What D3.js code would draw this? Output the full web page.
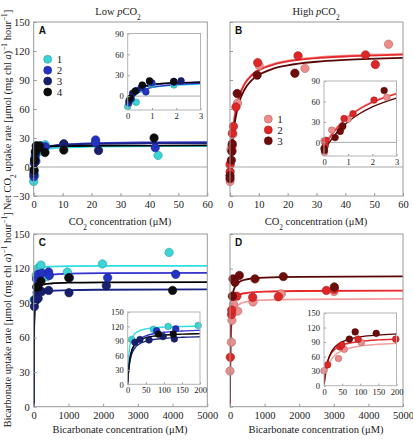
<!DOCTYPE html>
<html><head><meta charset="utf-8">
<script src="https://cdn.jsdelivr.net/npm/d3@7"></script>
<style>
body{margin:0;background:#fff;}
svg{display:block;font-family:"Liberation Serif","Times New Roman",serif;}
</style></head><body>
<svg id="c" width="413" height="440"></svg>
<script>
// ---------- data ----------
const lowNames = ["1","2","3","4"];
const highNames = ["1","2","3"];
const lowFill = ["#3ad3d6","#2233c2","#18206e","#0d0d0d"];
const lowLine = ["#30dde0","#3333d0","#1a2482","#000000"];
const highFill = ["#ee8c8c","#df2626","#6e0c0c"];
const highLine = ["#f59c9c","#e8282a","#5a0505"];

const aPoints = [
  [[0,-15],[0.35,-9],[0.6,10],[1.0,17],[1.9,16],[4,23],[43,12]],
  [[0.05,-10],[0.15,-4],[0.55,12],[0.75,6],[1.0,19],[1.9,21],[4,21],[10.4,23],[21.4,28],[21.4,25],[42,20]],
  [[0.05,-7],[0.2,4],[0.35,8],[0.6,15],[0.9,21],[1.9,20],[2.2,22],[10.4,24],[22.4,17]],
  [[0.1,-3],[0.3,7],[0.6,16],[0.9,22],[1.9,21],[3.9,15],[10.4,17.5],[41.6,30]]
];
const aCurveX = [0,0.1,0.25,0.5,0.75,1,1.5,2,3,5,10,20,40,60];
const aCurveY = [
  [-15,-8,-1,6,10,12.5,14.5,15.8,17.3,18.8,20.2,21,21.5,21.7],
  [-12,-6,0,6.5,10,12.5,15,16.5,18.3,20.5,23,24.6,25.5,25.8],
  [-10,-3,4,10,13.5,15.5,17.5,18.5,19.7,21.3,23,24,24.6,24.8],
  [-8,0,6,12,15,17,18.5,19.3,20.2,21,21.6,22,22.2,22.3]
];

const bPoints = [
  [[0,2],[0.02,-15],[0.32,18],[0.67,18],[1.0,34],[2.6,66],[10.1,105],[26,102],[55,127]],
  [[0.05,-5],[0.08,3],[0.74,22],[0.83,35],[1.2,42],[2.07,62],[9.6,108],[23.6,115],[47,116],[50.4,106]],
  [[0,-9],[0.02,-12],[0.46,7],[0.67,16],[0.78,24],[2.49,76],[9.4,95],[22.5,97]]
];
const bCurveX = [0,0.1,0.25,0.5,0.75,1,1.5,2,3,5,7.5,10,15,20,30,40,60];
const bCurveY = [
  [-5,1.3,9.7,21.3,30.7,38.4,50.6,59.6,72.1,86.3,95.5,100.9,106.8,110.1,113.5,115.3,117.1],
  [-8,-1.4,7.2,19.2,28.9,36.9,49.3,58.5,71.2,85.4,94.7,100,105.9,109.2,112.6,114.3,116.2],
  [-13,-6.8,1.4,13,22.5,30.3,42.7,52,65,79.9,89.6,95.3,101.7,105.2,108.9,110.8,112.8]
];

const cPoints = [
  [[11,93],[71,114],[112,120],[195,122],[210,123],[390,113],[970,117],[1980,124],[3900,134]],
  [[80,111],[133,115],[240,116],[430,117],[450,114],[1030,112],[2130,112],[4090,115]],
  [[20,87],[34,93],[59,92],[98,99],[129,94],[230,100],[432,101],[1017,99],[2092,105]],
  [[85,104],[126,104],[210,109],[1010,112],[4000,101]]
];
const cCurveX = [0,1,2,5,10,20,30,50,75,100,150,200,300,500,1000,2000,5000];
const cCurveY = [
  [0,28.5,46.2,73.8,92.1,105.2,110.4,114.9,117.3,118.6,119.9,120.5,121.2,121.7,122.1,122.3,122.4],
  [0,12.9,23.3,44.8,64.7,83.2,92,100.4,105.3,107.9,110.6,112,113.5,114.7,115.6,116,116.3],
  [0,12.75,22.7,42.5,60,75.6,82.7,89.5,93.3,95.3,97.5,98.6,99.7,100.6,101.3,101.6,101.9],
  [0,15.5,27.1,49.2,67.7,83.3,90.3,96.7,100.3,102.2,104.1,105.1,106.2,107,107.7,108,108.2]
];

const dPoints = [
  [[0,31],[40,56],[56,75],[103,89],[222,83],[665,91],[1484,98],[3006,100]],
  [[10,43],[44,80],[49,84],[94,96],[198,96],[655,95],[1397,95.5],[2784,101],[3015,102]],
  [[70,96],[86,111],[144,108],[270,114],[722,111],[1541,113],[3015,104]]
];
const dCurveX = [0,2,5,10,20,30,50,75,100,150,200,300,500,1000,2000,5000];
const dCurveY = [
  [0,11.1,23.5,37.6,53.7,62.7,72.3,78.3,81.7,85.5,87.4,89.5,91.3,92.6,93.3,93.7],
  [0,16.3,32.8,49.5,66.4,75,83.6,88.7,91.5,94.5,96,97.6,98.9,100,100.5,100.8],
  [0,15.4,32.1,50,69.4,79.7,90.5,97.1,100.7,104.6,106.7,108.9,110.7,112.1,112.8,113.2]
];

const co2Ticks = [0,10,20,30,40,50,60];
const co2InsetTicks = [0,1,2,3];
const hco3Ticks = [0,1000,2000,3000,4000,5000];
const hco3InsetTicks = [0,50,100,150,200];
const rateTicks = [-30,0,30,60,90,120,150];
const rateInsetTicks = [0,30,60,90];
const bicTicks = [0,30,60,90,120,150];
const bicInsetTicks = [0,30,60,90,120,150];

// ---------- drawing ----------
const SERIF = "Liberation Serif";
const svg = d3.select("#c");
const defs = svg.append("defs");
let clipN = 0;
function clipFor(b){
  const id = "clip" + (clipN++);
  defs.append("clipPath").attr("id", id).append("rect")
    .attr("x", b.l).attr("y", b.t).attr("width", b.r - b.l).attr("height", b.b - b.t);
  return `url(#${id})`;
}
const fmt = d3.format("d");

function area(cfg, box, xDom, yDom, xT, yT, o){
  const g = svg.append("g");
  const x = d3.scaleLinear().domain(xDom).range([box.l, box.r]);
  const y = d3.scaleLinear().domain(yDom).range([box.b, box.t]);
  g.append("rect").attr("x", box.l).attr("y", box.t).attr("width", box.r - box.l)
    .attr("height", box.b - box.t).attr("fill", "#fff");
  if (yDom[0] < 0) g.append("line").attr("x1", box.l).attr("x2", box.r)
    .attr("y1", y(0)).attr("y2", y(0)).attr("stroke", "#a8a8a8").attr("stroke-width", 1);
  const cp = clipFor(box);
  const line = d3.line().x(d => x(d[0])).y(d => y(d[1])).curve(d3.curveMonotoneX);
  cfg.curveY.forEach((ys, i) => {
    g.append("path").attr("d", line(cfg.curveX.map((xv, j) => [xv, ys[j]])))
      .attr("fill", "none").attr("stroke", cfg.line[i]).attr("stroke-width", o.lw)
      .attr("clip-path", cp);
  });
  cfg.points.forEach((ser, i) => {
    g.append("g").selectAll("circle").data(ser.filter(d => d[0] <= xDom[1])).join("circle")
      .attr("cx", d => x(d[0])).attr("cy", d => y(d[1])).attr("r", o.r)
      .attr("fill", cfg.fill[i]).attr("stroke", d3.color(cfg.fill[i]).darker(0.8))
      .attr("stroke-width", 0.6);
  });
  const ya = d3.axisLeft(y).tickValues(yT).tickSize(-o.tick).tickPadding(o.ypad)
    .tickFormat(o.yLabels ? fmt : () => "");
  const yg = g.append("g").attr("transform", `translate(${box.l},0)`).call(ya);
  const xa = d3.axisBottom(x).tickValues(xT).tickSize(-o.tick).tickPadding(o.xpad).tickFormat(fmt);
  const xg = g.append("g").attr("transform", `translate(0,${box.b})`).call(xa);
  [yg, xg].forEach(a => {
    a.attr("font-family", SERIF).attr("font-size", o.fs);
    a.select(".domain").remove();
    a.selectAll("line").attr("stroke", "#999");
    a.selectAll("text").attr("font-size", o.fs).attr("fill", "#1a1a1a").attr("font-family", SERIF);
  });
  g.append("rect").attr("x", box.l).attr("y", box.t).attr("width", box.r - box.l)
    .attr("height", box.b - box.t).attr("fill", "none").attr("stroke", o.frame).attr("stroke-width", 1);
  return g;
}

const mainOpt = {lw: 1.8, r: 4.2, tick: 3, ypad: 4, xpad: 5, fs: 10.5, frame: "#9a9a9a"};
const insetOpt = {lw: 1.4, r: 3.3, tick: 2, ypad: 4, xpad: 3, fs: 8.5, frame: "#b4b4b4", yLabels: true};

const panels = [
  {letter: "A", points: aPoints, curveX: aCurveX, curveY: aCurveY, fill: lowFill, line: lowLine,
   box: {l: 33.7, r: 207.3, t: 22, b: 196}, xDom: [0, 60], yDom: [-30, 150], xT: co2Ticks, yT: rateTicks, yLab: true,
   ibox: {l: 127.7, r: 200.5, t: 33.5, b: 110}, ixDom: [0, 3], iyDom: [-20, 90], ixT: co2InsetTicks, iyT: rateInsetTicks,
   legend: {x: 47.7, y: 59.3, names: lowNames}},
  {letter: "B", points: bPoints, curveX: bCurveX, curveY: bCurveY, fill: highFill, line: highLine,
   box: {l: 230, r: 403, t: 22, b: 196}, xDom: [0, 60], yDom: [-30, 150], xT: co2Ticks, yT: rateTicks, yLab: false,
   ibox: {l: 324, r: 396.5, t: 81, b: 156}, ixDom: [0, 3], iyDom: [-20, 90], ixT: co2InsetTicks, iyT: rateInsetTicks,
   legend: {x: 268.3, y: 119, names: highNames}},
  {letter: "C", points: cPoints, curveX: cCurveX, curveY: cCurveY, fill: lowFill, line: lowLine,
   box: {l: 33.7, r: 207.3, t: 234, b: 406.7}, xDom: [0, 5000], yDom: [0, 150], xT: hco3Ticks, yT: bicTicks, yLab: true,
   ibox: {l: 127.7, r: 200, t: 312, b: 384.3}, ixDom: [0, 200], iyDom: [0, 150], ixT: hco3InsetTicks, iyT: bicInsetTicks},
  {letter: "D", points: dPoints, curveX: dCurveX, curveY: dCurveY, fill: highFill, line: highLine,
   box: {l: 230, r: 403, t: 234, b: 406.7}, xDom: [0, 5000], yDom: [0, 150], xT: hco3Ticks, yT: bicTicks, yLab: false,
   ibox: {l: 324, r: 396.5, t: 313, b: 385.7}, ixDom: [0, 200], iyDom: [0, 150], ixT: hco3InsetTicks, iyT: bicInsetTicks}
];

panels.forEach(p => {
  area(p, p.box, p.xDom, p.yDom, p.xT, p.yT, Object.assign({}, mainOpt, {yLabels: p.yLab}));
  svg.append("text").attr("x", p.box.l + 5).attr("y", p.box.t + 12).text(p.letter)
    .attr("font-family", "Liberation Sans").attr("font-weight", "bold").attr("font-size", 10).attr("fill", "#111");
  if (p.legend) {
    const lg = svg.append("g");
    p.legend.names.forEach((n, i) => {
      const yy = p.legend.y + i * 10.9;
      lg.append("circle").attr("cx", p.legend.x).attr("cy", yy).attr("r", 4)
        .attr("fill", p.fill[i]).attr("stroke", d3.color(p.fill[i]).darker(0.8)).attr("stroke-width", 0.6);
      lg.append("text").attr("x", p.legend.x + 9).attr("y", yy + 3.8).text(n)
        .attr("font-family", SERIF).attr("font-size", 11).attr("fill", "#1a1a1a");
    });
  }
  area(p, p.ibox, p.ixDom, p.iyDom, p.ixT, p.iyT, insetOpt);
});

// titles
function subText(sel, parts){
  parts.forEach(pt => {
    const t = sel.append("tspan").text(pt.t);
    if (pt.i) t.attr("font-style", "italic");
    if (pt.sub) t.attr("baseline-shift", "sub").attr("font-size", "70%");
    if (pt.sup) t.attr("baseline-shift", "super").attr("font-size", "70%");
  });
}
const T = (x, y, parts, size, rot) => {
  const t = svg.append("text").attr("text-anchor", "middle").attr("font-size", size)
    .attr("font-family", SERIF).attr("fill", "#1a1a1a");
  if (rot) t.attr("transform", `translate(${x},${y}) rotate(-90)`); else t.attr("x", x).attr("y", y);
  subText(t, parts);
};
T(118, 15, [{t: "Low "}, {t: "p", i: 1}, {t: "CO"}, {t: "2", sub: 1}], 10.5);
T(316, 15, [{t: "High "}, {t: "p", i: 1}, {t: "CO"}, {t: "2", sub: 1}], 10.5);
T(120, 225, [{t: "CO"}, {t: "2", sub: 1}, {t: " concentration (μM)"}], 10.5);
T(316, 225, [{t: "CO"}, {t: "2", sub: 1}, {t: " concentration (μM)"}], 10.5);
T(120, 433, [{t: "Bicarbonate concentration (μM)"}], 10.5);
T(316, 433, [{t: "Bicarbonate concentration (μM)"}], 10.5);
T(11, 110, [{t: "Net CO"}, {t: "2", sub: 1}, {t: " uptake rate [μmol (mg chl "}, {t: "a", i: 1}, {t: ")"}, {t: "−1", sup: 1}, {t: " hour"}, {t: "−1", sup: 1}, {t: "]"}], 10.5, true);
T(11, 320, [{t: "Bicarbonate uptake rate [μmol (mg chl "}, {t: "a", i: 1}, {t: ")"}, {t: "−1", sup: 1}, {t: " hour"}, {t: "−1", sup: 1}, {t: "]"}], 10.5, true);
</script>
</body></html>
